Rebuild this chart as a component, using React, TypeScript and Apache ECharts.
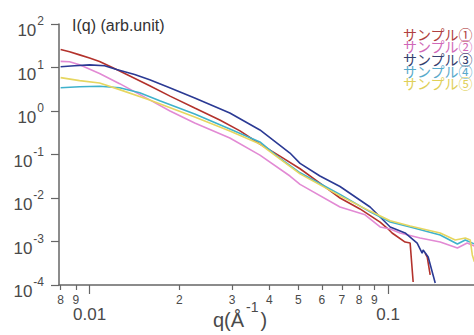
import React, { useEffect, useRef } from "react";
import * as echarts from "echarts";

const seriesNames = ["サンプル①", "サンプル②", "サンプル③", "サンプル④", "サンプル⑤"];
const lineColors = ["#b3322c", "#e28ad4", "#2b3a94", "#3fb2cc", "#e6d660"];
const legendColors = ["#b04040", "#d068b8", "#34406e", "#58aacb", "#e0d058"];

// Sample 1 (red) — '-' marks a gap
const sample1Q = [0.008, 0.00857, 0.00926, 0.01, 0.0108, 0.01232, 0.0159, 0.0186, 0.0225, 0.0273, 0.0319, 0.0372, 0.0434, 0.0507, 0.0591, 0.069, 0.0805, 0.094, 0.0992, 0.1031, 0.114, 0.1185, 0.1213, 0.127, 0.133, 0.1352, 0.1383];
const sample1I: (number | string)[] = [26, 23, 19.5, 16.5, 13.8, 9.0, 3.8, 2.2, 1.17, 0.62, 0.35, 0.174, 0.092, 0.047, 0.022, 0.01, 0.0056, 0.0028, 0.00204, 0.00157, 0.00097, 0.00092, 0.000117, "-", 0.00054, 0.00044, 0.00017];

// Sample 2 (pink)
const sample2Q = [0.008, 0.00857, 0.00926, 0.0108, 0.01261, 0.0159, 0.0186, 0.0225, 0.0295, 0.0372, 0.0469, 0.0507, 0.069, 0.0837, 0.094, 0.1016, 0.1097, 0.1279, 0.1494, 0.1706, 0.184, 0.1945];
const sample2I = [13.8, 13.6, 11.5, 7.3, 4.25, 1.8, 1.0, 0.53, 0.239, 0.097, 0.032, 0.0206, 0.0062, 0.0041, 0.00216, 0.00194, 0.00157, 0.0012, 0.00097, 0.00071, 0.00092, 0.00079];

// Sample 3 (navy)
const sample3Q = [0.008, 0.0089, 0.01, 0.01123, 0.01232, 0.01416, 0.0159, 0.01855, 0.0225, 0.0295, 0.0372, 0.0469, 0.0507, 0.0591, 0.069, 0.087, 0.1016, 0.114, 0.1251, 0.13, 0.131, 0.1362, 0.1438];
const sample3I = [10.4, 11, 11.5, 11, 9.0, 6.9, 5.26, 3.43, 2.0, 0.9, 0.366, 0.108, 0.0624, 0.0321, 0.0184, 0.0062, 0.00216, 0.00157, 0.00092, 0.00054, 0.00064, 0.00044, 0.000111];

// Sample 4 (cyan)
const sample4Q = [0.008, 0.00926, 0.0108, 0.01261, 0.01472, 0.01718, 0.0225, 0.0295, 0.0372, 0.0434, 0.0507, 0.069, 0.087, 0.1016, 0.1185, 0.1494, 0.1706, 0.1813, 0.1945];
const sample4I = [3.43, 3.6, 3.7, 3.43, 2.62, 1.71, 0.853, 0.386, 0.194, 0.082, 0.038, 0.0121, 0.0048, 0.0028, 0.00216, 0.00141, 0.00088, 0.00108, 0.00088];

// Sample 5 (yellow)
const sample5Q = [0.008, 0.00926, 0.0108, 0.01261, 0.0159, 0.0225, 0.0295, 0.0372, 0.0507, 0.069, 0.087, 0.1016, 0.1185, 0.1494, 0.1678, 0.1813, 0.1884, 0.1914, 0.1945];
const sample5I = [5.85, 5.0, 4.4, 3.1, 1.8, 0.73, 0.347, 0.174, 0.0358, 0.0112, 0.005, 0.003, 0.00227, 0.00157, 0.00108, 0.0012, 0.00108, 0.00049, 0.00034];

const xMinorTicks = [0.008, 0.009, 0.02, 0.03, 0.04, 0.05, 0.06, 0.07, 0.08, 0.09, 0.2];
const xMinorLabels = ["8", "9", "2", "3", "4", "5", "6", "7", "8", "9", "2"];
const xMajorTicks = [0.01, 0.1];
const xMajorLabels = ["0.01", "0.1"];
const yTickExponents = [-4, -3, -2, -1, 0, 1, 2];

const X_MIN = 0.0079;
const X_MAX = 0.2;
const FONT = "'Liberation Sans', Arial, sans-serif";
const TXT = "#4a4a4a";

function zip(q: number[], v: (number | string)[]) {
  return q.map((x, i) => [x, v[i]]);
}

function findLabel(val: number, ticks: number[], labels: string[]) {
  let best = 0;
  let bd = Infinity;
  ticks.forEach((t, i) => {
    const d = Math.abs(Math.log10(t) - val);
    if (d < bd) {
      bd = d;
      best = i;
    }
  });
  return bd < 1e-6 ? labels[best] : "";
}

export default function App() {
  const ref = useRef<HTMLDivElement>(null);
  useEffect(() => {
    if (!ref.current) return;
    const chart = echarts.init(ref.current, undefined, { renderer: "svg" });
    const grid = { left: 59, top: 24, width: 419, height: 261, containLabel: false, outerBoundsMode: "none" };
    const lmin = Math.log10(X_MIN);
    const lmax = Math.log10(X_MAX);
    const allQ = [sample1Q, sample2Q, sample3Q, sample4Q, sample5Q];
    const allI = [sample1I, sample2I, sample3I, sample4I, sample5I];
    chart.setOption({
      animation: false,
      backgroundColor: "#ffffff",
      grid,
      legend: {
        orient: "vertical",
        right: 1,
        top: 27,
        padding: 0,
        icon: "none",
        itemWidth: 0,
        itemHeight: 12,
        itemGap: -1.7,
        textStyle: { fontSize: 14, fontFamily: "'Noto Sans CJK JP', sans-serif" },
        data: seriesNames.map((n, i) => ({ name: n, textStyle: { color: legendColors[i] } })),
      },
      xAxis: [
        {
          type: "log",
          min: X_MIN,
          max: X_MAX,
          position: "bottom",
          axisLine: { show: true, onZero: false, lineStyle: { color: "#666", width: 1.5 } },
          axisTick: { show: false },
          axisLabel: { show: false },
          splitLine: { show: false },
          minorSplitLine: { show: false },
        },
        {
          type: "value",
          min: lmin,
          max: lmax,
          position: "bottom",
          axisLine: { show: false, onZero: false },
          axisTick: {
            show: true,
            length: 5,
            customValues: xMinorTicks.map((t) => Math.log10(t)),
            lineStyle: { color: "#666", width: 1.2 },
          },
          axisLabel: {
            show: true,
            customValues: xMinorTicks.map((t) => Math.log10(t)),
            formatter: (v: number) => findLabel(v, xMinorTicks, xMinorLabels),
            fontSize: 12,
            color: TXT,
            margin: 9,
            fontFamily: FONT,
            showMinLabel: true,
            showMaxLabel: true,
          },
          splitLine: { show: false },
        },
        {
          type: "value",
          min: lmin,
          max: lmax,
          position: "bottom",
          axisLine: { show: false, onZero: false },
          axisTick: {
            show: true,
            length: 9,
            customValues: xMajorTicks.map((t) => Math.log10(t)),
            lineStyle: { color: "#666", width: 1.2 },
          },
          axisLabel: {
            show: true,
            customValues: xMajorTicks.map((t) => Math.log10(t)),
            formatter: (v: number) => findLabel(v, xMajorTicks, xMajorLabels),
            fontSize: 17,
            color: TXT,
            margin: 21,
            fontFamily: FONT,
          },
          splitLine: { show: false },
        },
      ],
      yAxis: [
        {
          type: "log",
          min: 1e-4,
          max: 100,
          position: "left",
          axisLine: { show: true, onZero: false, lineStyle: { color: "#666", width: 1.5 } },
          axisTick: { show: false },
          axisLabel: { show: false },
          splitLine: { show: false },
          minorSplitLine: { show: false },
        },
        {
          type: "value",
          min: -4,
          max: 2,
          interval: 1,
          position: "left",
          axisLine: { show: false, onZero: false },
          axisTick: {
            show: true,
            length: 8,
            customValues: yTickExponents,
            lineStyle: { color: "#666", width: 1.2 },
          },
          axisLabel: {
            show: true,
            customValues: yTickExponents,
            margin: 15,
            formatter: (v: number) => `{b|10}{s|${v}}`,
            rich: {
              b: { fontSize: 17, color: TXT, fontFamily: FONT, padding: [13, 0, 0, 0] },
              s: { fontSize: 12, color: TXT, fontFamily: FONT, padding: [0, 0, 6, 1] },
            },
          },
          splitLine: { show: false },
        },
      ],
      series: seriesNames.map((n, i) => ({
        name: n,
        type: "line",
        xAxisIndex: 0,
        yAxisIndex: 0,
        showSymbol: false,
        symbol: "none",
        connectNulls: false,
        lineStyle: { color: lineColors[i], width: 1.6 },
        itemStyle: { color: lineColors[i] },
        data: zip(allQ[i], allI[i]),
      })),
      graphic: [
        {
          type: "text",
          left: 72,
          top: 17,
          style: { text: "I(q) (arb.unit)", fontSize: 16, fill: "#333", fontFamily: FONT },
        },
        {
          type: "text",
          x: 240,
          y: 320,
          style: {
            text: "{a|q(Å}{s|-1}{a|)}",
            align: "center",
            verticalAlign: "middle",
            rich: {
              a: { fontSize: 20, fill: TXT, fontFamily: FONT },
              s: { fontSize: 14, fill: TXT, fontFamily: FONT, padding: [0, 2, 26, 2] },
            },
          },
        },
      ],
    });
    return () => chart.dispose();
  }, []);
  return (
    <div
      ref={ref}
      style={{ position: "absolute", left: 0, top: 0, width: 474, height: 335, background: "#fff" }}
    />
  );
}
